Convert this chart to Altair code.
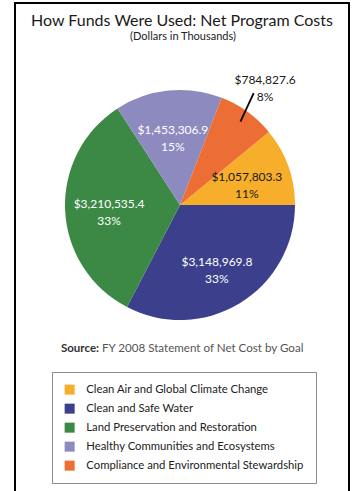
import math
import altair as alt
import pandas as pd

# ---- data ----
goals = [
    "Clean Air and Global Climate Change",
    "Clean and Safe Water",
    "Land Preservation and Restoration",
    "Healthy Communities and Ecosystems",
    "Compliance and Environmental Stewardship",
]
values = [1057803.3, 3148969.8, 3210535.4, 1453306.9, 784827.6]
value_labels = ["$1,057,803.3", "$3,148,969.8", "$3,210,535.4", "$1,453,306.9", "$784,827.6"]
slice_order = [5, 1, 2, 3, 4]  # clockwise from 3 o'clock
palette = ["#F7AE2B", "#3B3F8C", "#3C8946", "#8D8ABF", "#EC6E34"]

title_text = "How Funds Were Used: Net Program Costs"
subtitle_text = "(Dollars in Thousands)"
source_bold = "Source:"
source_text = "FY 2008 Statement of Net Cost by Goal"

total = sum(values)
pcts = [round(v / total * 100) for v in values]
df = pd.DataFrame({
    "goal": goals,
    "value": values,
    "order": slice_order,
    "pct": pcts,
    "label": [f"{l}\n{p}%" for l, p in zip(value_labels, pcts)],
})

FONT = "Lato"
CX, CY, R = 180, 205, 115
start = math.pi / 2

theta = alt.Theta("value:Q", stack=True,
                  scale=alt.Scale(range=[start, start + 2 * math.pi]))
color = alt.Color(
    "goal:N",
    scale=alt.Scale(domain=goals, range=palette),
    legend=alt.Legend(
        orient="none", legendX=52, legendY=372, title=None,
        symbolType="square", symbolSize=100, symbolStrokeWidth=0,
        labelFont=FONT, labelFontSize=11.3, labelColor="#222",
        labelOffset=11, labelLimit=400, rowPadding=7,
        padding=12, strokeColor="#8a8a8a", fillColor="white",
    ),
)

base = alt.Chart(df)

pie = base.mark_arc(outerRadius=R, stroke=None).encode(
    theta=theta, color=color, order=alt.Order("order:Q"),
    x=alt.value(CX), y=alt.value(CY),
)

inside = base.mark_text(radius=71, font=FONT, fontSize=12, lineBreak="\n",
                        lineHeight=17, align="center", baseline="middle").encode(
    theta=theta, order=alt.Order("order:Q"),
    x=alt.value(CX), y=alt.value(CY - 4),
    text=alt.condition("datum.pct >= 10", alt.Text("label:N"), alt.value("")),
    color=alt.condition(f"datum.goal == '{goals[0]}'", alt.value("#1a1a1a"), alt.value("white")),
)

outside = base.mark_text(radius=145, font=FONT, fontSize=12, lineBreak="\n",
                         lineHeight=17, align="center", baseline="middle",
                         color="#1a1a1a").encode(
    theta=theta, order=alt.Order("order:Q"),
    x=alt.value(CX), y=alt.value(CY - 8),
    text=alt.condition("datum.pct < 10", alt.Text("label:N"), alt.value("")),
)

leader = base.transform_stack(
    stack="value", groupby=[], as_=["v0", "v1"],
    sort=[alt.SortField("order", order="ascending")],
).transform_joinaggregate(tot="sum(value)").transform_calculate(
    mid=f"{start} + PI * (datum.v0 + datum.v1) / datum.tot",
).transform_calculate(
    x1=f"{CX} + 103 * sin(datum.mid)", y1=f"{CY} - 103 * cos(datum.mid)",
    x2=f"{CX} + 134 * sin(datum.mid - 0.045)", y2=f"{CY} - 134 * cos(datum.mid - 0.045)",
).transform_filter("datum.pct < 10").mark_rule(color="black", strokeWidth=1.8).encode(
    x=alt.X("x1:Q", scale=None, axis=None), y=alt.Y("y1:Q", scale=None, axis=None),
    x2="x2:Q", y2="y2:Q",
)

one = pd.DataFrame({"t": [title_text], "s": [subtitle_text], "b": [source_bold], "r": [source_text]})
txt = alt.Chart(one)
title = txt.mark_text(font=FONT, fontSize=16, color="#1a1a1a", align="center", baseline="middle").encode(
    text="t:N", x=alt.value(182), y=alt.value(21))
subtitle = txt.mark_text(font=FONT, fontSize=11, color="#222", align="center", baseline="middle").encode(
    text="s:N", x=alt.value(183), y=alt.value(37))
src_b = txt.mark_text(font=FONT, fontSize=11.5, color="#333", fontWeight="bold", align="right", baseline="middle").encode(
    text="b:N", x=alt.value(99), y=alt.value(349))
src_r = txt.mark_text(font=FONT, fontSize=11.6, color="#555", align="left", baseline="middle").encode(
    text="r:N", x=alt.value(102), y=alt.value(349))

frame = txt.mark_rect(fill=None, stroke="black", strokeWidth=2).encode(
    x=alt.value(15), x2=alt.value(349), y=alt.value(3), y2=alt.value(530))

chart = alt.layer(frame, pie, inside, outside, leader, title, subtitle, src_b, src_r).properties(
    width=353, height=491, autosize=alt.AutoSizeParams(type="none"), padding=0,
    background="white",
).configure_view(stroke=None)

chart.save("out.html", embed_options={"renderer": "svg", "actions": False})
